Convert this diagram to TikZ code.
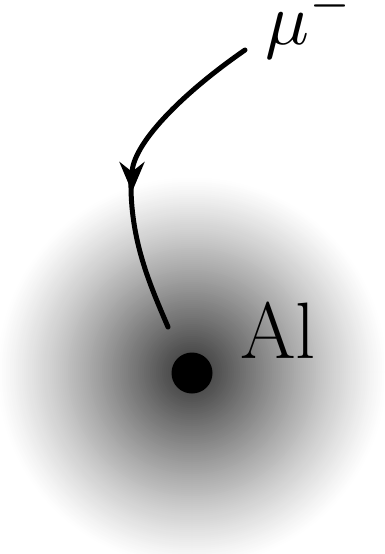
\documentclass[tikz,border=0pt]{standalone}
\usetikzlibrary{arrows.meta}
\tikzset{
  track/.style={line width=5pt, line cap=round},
  altext/.style={font=\fontsize{80}{90}\selectfont, inner sep=0pt},
  mutext/.style={font=\fontsize{10}{12}\selectfont, scale=7.3, inner sep=0pt}
}
\begin{document}
\begin{tikzpicture}[x=1pt,y=-1pt]
\useasboundingbox (0,0) rectangle (384,554);
\begin{scope}
\clip (0,0) rectangle (384,554);
\foreach \i in {0,...,97} {
  \pgfmathsetmacro{\r}{196-2*\i}
  \pgfmathsetmacro{\p}{80*(1-\r/196)^1.15}
  \fill[black!\p] (192,372) circle (\r);
}
\end{scope}
\fill (192,373) circle (20.5);
\node[altext, anchor=base west] (al) at (240,358) {Al};
\node[mutext, anchor=base west] (mu) at (264,44) {$\mu^{\scalebox{0.9}{$\scriptstyle-$}}$};
\coordinate (s) at (245,50);
\coordinate (t) at (132,192);
\coordinate (e) at (168,327);
\draw[track, -{Stealth[length=30pt,width=25pt]}] (s) .. controls (180,95) and (132,145) .. (t);
\draw[track] (131,180) .. controls (130,240) and (150,285) .. (e);
\end{tikzpicture}
\end{document}
